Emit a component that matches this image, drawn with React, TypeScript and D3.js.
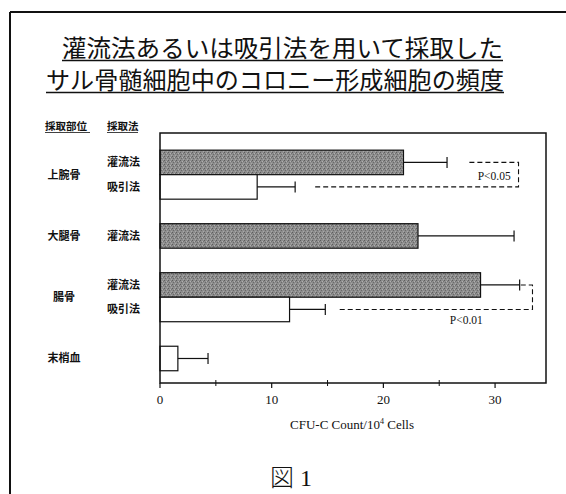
import React from 'react'
import * as d3 from 'd3'

// chart values
const sites = ["上腕骨", "上腕骨", "大腿骨", "腸骨", "腸骨", "末梢血"]
const methods = ["灌流法", "吸引法", "灌流法", "灌流法", "吸引法", ""]
const slots = [0, 1, 3, 5, 6, 8]
const means = [21.8, 8.7, 23.1, 28.7, 11.6, 1.6]
const errors = [3.9, 3.4, 8.6, 3.5, 3.2, 2.7]
const majorTicks = [0, 10, 20, 30]
const minorTicks = [5, 15, 25]
const pLabels = ["P<0.05", "P<0.01"]
const pPairs = [[0, 1], [3, 4]]
const pTopStart = [27.7, 32.3]
const pBottomStart = [13.7, 15.9]
const pRight = [32.1, 33.35]

const W = 566
const H = 494
const serif = "'Liberation Serif', 'Times New Roman', serif"
const jp = "'Noto Sans CJK JP', sans-serif"

const App = () => {
    const x = d3.scaleLinear().domain([0, 34.56]).range([160, 546])
    const y = d3.scaleLinear().domain([-0.7, 9.5]).range([133, 383])
    const bh = y(1) - y(0)

    // group labels sit at the middle of their rows
    const groups = Array.from(d3.group(d3.range(sites.length), i => sites[i]), ([name, idx]) => ({
        name,
        mid: (d3.min(idx, i => slots[i])! + d3.max(idx, i => slots[i])! + 1) / 2,
    }))

    return (
        <svg width={W} height={H} style={{ position: 'absolute', left: 0, top: 0, background: '#fff' }}>
            <defs>
                <pattern id="grain" width="4" height="4" patternUnits="userSpaceOnUse">
                    <rect width="4" height="4" fill="#8d8d8d" />
                    <rect x="0" y="0" width="1" height="1" fill="#5e5e5e" />
                    <rect x="2" y="1" width="1" height="1" fill="#b0b0b0" />
                    <rect x="1" y="2" width="1" height="1" fill="#6a6a6a" />
                    <rect x="3" y="3" width="1" height="1" fill="#a8a8a8" />
                    <rect x="3" y="1" width="1" height="1" fill="#737373" />
                </pattern>
            </defs>

            {/* page frame */}
            <line x1={10} x2={W} y1={12} y2={12} stroke="#111" strokeWidth={2} />
            <line x1={10} x2={10} y1={12} y2={H} stroke="#111" strokeWidth={2} />

            {/* title */}
            <g fontFamily={jp} fontSize={24} fill="#111">
                <text x={62} y={57} textLength={441} lengthAdjust="spacingAndGlyphs">灌流法あるいは吸引法を用いて採取した</text>
                <line x1={62} x2={503} y1={60.5} y2={60.5} stroke="#111" strokeWidth={1.3} />
                <text x={46} y={89} textLength={458} lengthAdjust="spacingAndGlyphs">サル骨髄細胞中のコロニー形成細胞の頻度</text>
                <line x1={46} x2={504} y1={92.5} y2={92.5} stroke="#111" strokeWidth={1.3} />
            </g>

            {/* column headers */}
            <g fontFamily={jp} fontSize={10.5} fontWeight="bold" fill="#111">
                <text x={45} y={130}>採取部位</text>
                <line x1={45} x2={90} y1={132.5} y2={132.5} stroke="#111" strokeWidth={0.8} />
                <text x={107} y={130}>採取法</text>
                <line x1={107} x2={138} y1={132.5} y2={132.5} stroke="#111" strokeWidth={0.8} />
            </g>

            {/* row labels */}
            <g fontFamily={jp} fontSize={11} fontWeight="bold" fill="#111">
                {groups.map(g => (
                    <text key={g.name} x={64} y={y(g.mid) + 4} textAnchor="middle">{g.name}</text>
                ))}
                {methods.map((m, i) => (
                    <text key={i} x={107} y={y(slots[i] + 0.5) + 4}>{m}</text>
                ))}
            </g>

            {/* bars */}
            {means.map((v, i) => (
                <rect key={i} x={x(0)} y={y(slots[i])} width={x(v) - x(0)} height={bh}
                    fill={methods[i] === "灌流法" ? "url(#grain)" : "#fff"} stroke="#111" strokeWidth={1.2} />
            ))}

            {/* error bars */}
            {means.map((v, i) => {
                const cy = y(slots[i] + 0.5)
                return (
                    <g key={i} stroke="#111" strokeWidth={1.2}>
                        <line x1={x(v)} x2={x(v + errors[i])} y1={cy} y2={cy} />
                        <line x1={x(v + errors[i])} x2={x(v + errors[i])} y1={cy - 5.5} y2={cy + 5.5} />
                    </g>
                )
            })}

            {/* significance brackets */}
            {pPairs.map(([a, b], k) => {
                const ya = y(slots[a] + 0.5)
                const yb = y(slots[b] + 0.5)
                return (
                    <g key={k}>
                        <path d={`M${x(pTopStart[k])},${ya}H${x(pRight[k])}V${yb}H${x(pBottomStart[k])}`}
                            fill="none" stroke="#111" strokeWidth={1.1} strokeDasharray="5,3" />
                        <text x={k === 0 ? x(31.4) : x(28.9)} y={k === 0 ? (ya + yb) / 2 + 5 : yb + 15}
                            textAnchor="end" fontFamily={serif} fontSize={11.5} fill="#111">{pLabels[k]}</text>
                    </g>
                )
            })}

            {/* plot box and axis */}
            <rect x={x(0)} y={y(-0.7)} width={x.range()[1] - x(0)} height={y(9.5) - y(-0.7)}
                fill="none" stroke="#111" strokeWidth={1.5} />
            {majorTicks.map(t => (
                <g key={t}>
                    <line x1={x(t)} x2={x(t)} y1={383} y2={388} stroke="#111" strokeWidth={1.2} />
                    <text x={x(t)} y={404} textAnchor="middle" fontFamily={serif} fontSize={13} fill="#111">{t}</text>
                </g>
            ))}
            {minorTicks.map(t => (
                <line key={t} x1={x(t)} x2={x(t)} y1={380} y2={386} stroke="#111" strokeWidth={1} />
            ))}
            <text x={352} y={429} textAnchor="middle" fontFamily={serif} fontSize={13} fill="#111">
                CFU-C Count/10<tspan dy={-5} fontSize={8}>4</tspan><tspan dy={5}> Cells</tspan>
            </text>

            <text x={291} y={486} textAnchor="middle" fontFamily={serif + ", " + jp} fontSize={24} fontWeight={300} fill="#111">図 1</text>
        </svg>
    )
}

export default App
